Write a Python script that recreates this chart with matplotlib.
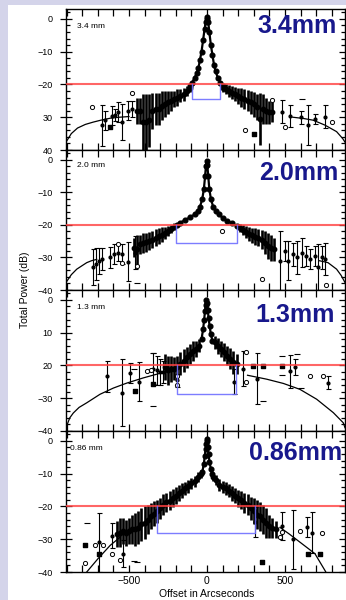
import numpy as np
import matplotlib as mpl
import matplotlib.pyplot as plt
from matplotlib.patches import Rectangle
from matplotlib.ticker import MultipleLocator, FixedLocator

mpl.rcParams.update({
    "font.family": ["Liberation Sans", "DejaVu Sans"],
    "axes.linewidth": 1.0,
})

C_NAVY = "#18188c"
C_RED = "#ff4040"
C_BLUE = "#6f6fff"
C_LAV = "#d4d4ea"

nan = np.nan

# ---------------------------------------------------------------- 3.4 mm
P1_CORE_X = [-110, -95, -80, -65, -55, -45, -35, -25, -15, -8, -3, 2, 8, 15, 25, 35, 45, 55, 70, 85, 100]
P1_CORE_Y = [-20.5, -19.5, -18, -16.5, -15, -12.5, -10, -6.5, -3, -1, 0, 0.5, -1, -4, -8, -11, -14, -16, -18, -19.5, -20.5]
P1_BAND_X = [-450, -430, -410, -390, -370, -350, -330, -310, -290, -270, -250, -230, -210, -190, -170, -150, -130, -110,
             100, 120, 140, 160, 180, 200, 220, 240, 260, 280, 300, 320, 340, 360, 380, 400, 420]
P1_BAND_Y = [-28, -28, -31.5, -31.5, -31, -28, -27.5, -27.5, -26.5, -26, -25.5, -25, -24.5, -24, -23.5, -23, -22, -21,
             -21, -21.5, -22, -22.5, -23, -23.5, -24, -24.5, -25, -25.5, -26, -27, -30.5, -27.5, -28, -28.5, -28.5]
P1_BAND_E = [4, 4, 8.5, 8.5, 8, 5.5, 5, 5, 4.5, 4, 3.5, 3, 2.5, 2.5, 2, 2, 1.5, 1.3,
             1.2, 1.5, 1.8, 2, 2.2, 2.5, 2.8, 3, 3.2, 3.5, 3.8, 4, 8, 4.5, 4, 3.5, 3]
P1_BAR_X = [-675, -654, -610, -590, -570, -545, -506, -480, 480, 532, 600, 648, 692, 756]
P1_BAR_Y = [-32.5, -31, -29.5, -29.3, -28.5, -31.5, -28, -27.5, -28.3, -29.6, -30, -32.4, -30.5, -29.8]
P1_BAR_E = [6.3, 3, 2.8, 1.8, 3, 5.5, 3, 2.5, 3.5, 3.3, 2, 6.1, 1.5, 3.5]
P1_OPEN_X = [-737, -480, 243, 415, 500, 800]
P1_OPEN_Y = [-27, -22.5, -33.9, -24.8, -33, -31.5]
P1_DOT_X = [-620, 300]
P1_DOT_Y = [-33, -35]
P1_DASH_X = [608]
P1_DASH_Y = [-24.5]
P1_CURVE_X = [-904, -870, -830, -780, -730, -680, -620, -560, -500, nan, 550, 620, 680, 756, 831, 870, 885]
P1_CURVE_Y = [-37.6, -35, -33.3, -32.2, -31.5, -30.9, -30.3, -30, -29.8, nan, -30, -30.4, -30.9, -32.4, -34.4, -36.5, -37.6]

# ---------------------------------------------------------------- 2.0 mm
P2_CORE_X = [-190, -170, -140, -110, -80, -60, -45, -30, -20, -12, -7, -3, 2, 8, 15, 25, 40, 55, 75, 100, 130, 160, 190]
P2_CORE_Y = [-20, -19.3, -18.5, -17.7, -16.8, -15.8, -14.5, -12, -9, -5, -2, -0.3, -1.5, -5, -9, -12, -14.5, -15.8,
             -16.8, -17.8, -18.8, -19.5, -20.3]
P2_BAND_X = [-470, -450, -430, -410, -390, -370, -350, -330, -310, -290, -270, -250, -230, -210,
             210, 230, 250, 270, 290, 310, 330, 350, 370, 390, 410, 430]
P2_BAND_Y = [-27, -27.5, -26, -25.6, -25.3, -25, -24.5, -24, -23.5, -23, -22.4, -21.8, -21.2, -20.6,
             -21, -21.6, -22.2, -22.8, -23.2, -23.6, -24, -24.5, -25.5, -26.5, -27, -27.5]
P2_BAND_E = [3, 4.5, 3, 3, 2.9, 2.8, 2.7, 2.6, 2.5, 2.2, 1.8, 1.5, 1.3, 1.1,
             1.2, 1.5, 1.8, 2, 2.3, 2.5, 2.6, 2.8, 3.5, 4, 4, 3.5]
P2_BAR_X = [-730, -712, -695, -675, -620, -595, -570, -547, -506, -460,
            468, 500, 520, 550, 577, 609, 635, 660, 690, 712, 735, 756]
P2_BAR_Y = [-33, -32, -31, -30.5, -30, -29, -28.5, -29, -31.3, -28.5,
            -31, -28, -31, -29, -30, -28.5, -29.5, -30.5, -29.5, -33, -30, -30.5]
P2_BAR_E = [5.5, 5, 4, 3.5, 3.3, 3, 2.5, 3, 5.9, 5,
            9, 3, 6, 3.5, 5, 4.5, 3, 3, 3, 7, 3.5, 5]
P2_OPEN_X = [-570, -547, -449, 96, 352, 765]
P2_OPEN_Y = [-25.8, -31.6, -32.6, -22, -36.5, -38.5]
P2_DOT_X = []
P2_DOT_Y = []
P2_DASH_X = [-449]
P2_DASH_Y = [-37.7]
P2_CURVE_X = [-904, -870, -835, -800, -771, -740, -707, nan, 720, 776, 831, 860, 885]
P2_CURVE_Y = [-37.7, -35.3, -33.6, -32.5, -31.6, -31, -30.6, nan, -31, -31.6, -33.6, -35.5, -37.7]

# ---------------------------------------------------------------- 1.3 mm
P3_CORE_X = [-35, -25, -18, -13, -9, -5, 0, 5, 10, 17, 25, 35]
P3_CORE_Y = [-12, -9, -6, -3.5, -1.5, 0, -1, -3, -5.5, -8, -10.5, -12.5]
P3_BAND_X = [-270, -250, -230, -210, -190, -170, -150, -130, -110, -90, -70, -50,
             50, 70, 90, 110, 130, 150, 170, 190]
P3_BAND_Y = [-20.5, -21.5, -21, -21, -20.5, -19.5, -18.5, -17.5, -16.5, -15.5, -15, -14,
             -13, -14, -15, -16, -17, -18, -19, -19.5]
P3_BAND_E = [4, 4.5, 4, 3.5, 3.5, 3.5, 3.5, 3.2, 3, 3, 2.5, 2,
             2, 2.5, 2.5, 2.8, 3, 3.2, 3.5, 3]
P3_BAR_X = [-643, -547, -494, -434, -345, -320, -300, -280, -195, 172, 232, 318, 532, 564, 777]
P3_BAR_Y = [-23.3, -28.3, -22.4, -25, -21, -21.5, -22, -22, -24.5, -25, -21, -24, -21.8, -20.5, -25.3]
P3_BAR_E = [4.8, 10.2, 3, 6, 4.7, 4.5, 4, 3.5, 2, 3.8, 5.3, 7.7, 5.1, 2.5, 2]
P3_OPEN_X = [-387, -360, -195, -195, 250, 250, 660, 745]
P3_OPEN_Y = [-21.8, -21.3, -23.3, -26, -16, -25, -23.3, -23.3]
P3_DOT_X = [-462, 297, 361, 479, -345]
P3_DOT_Y = [-27.7, -20.3, -20.3, -20.3, -25.8]
P3_DASH_X = [-345, -345, -468, 360, 479, 479, 580, 600]
P3_DASH_Y = [-16.3, -32.4, -21.2, -31, -17, -23, -16.5, -27]
P3_CURVE_X = [-904, -880, -857, -820, -771, -686, -600, -515, -408, -301, -260, nan,
              260, 383, 490, 596, 703, 810, 874, 885]
P3_CURVE_Y = [-39, -36, -34.5, -32.8, -31.4, -28.8, -26.9, -25.4, -23.8, -22.4, -22, nan,
              -23, -24.2, -25.5, -27.3, -30.3, -34.4, -37.5, -39]

# ---------------------------------------------------------------- 0.86 mm
P4_CORE_X = [-30, -20, -14, -9, -5, -2, 1, 5, 10, 16, 25, 32]
P4_CORE_Y = [-9.5, -7, -4.5, -2.5, -1, 0.5, 0, -2, -4, -6.5, -8.5, -10]
P4_BAND_X = [-580, -560, -540, -520, -500, -480, -460, -440, -420, -400, -380, -360, -340, -320,
             -300, -280, -260, -240, -220, -200, -180, -160, -140, -120, -100, -80, -60, -40,
             40, 60, 80, 100, 120, 140, 160, 180, 200, 220, 240, 260, 280, 300, 320, 340, 360,
             380, 400, 420, 440]
P4_BAND_Y = [-28.5, -28, -27.5, -28, -27.5, -27, -27, -26.5, -25.5, -25, -24, -23, -22.2, -21.5,
             -20.5, -19.5, -18.8, -18.2, -17.5, -16.8, -16, -15.2, -14.5, -13.8, -13, -12.3, -11, -10,
             -11, -12, -13.5, -14, -14.5, -15.2, -16, -16.7, -17.5, -18, -19, -19.5, -20.5, -21.5,
             -22.5, -23, -24, -25, -26, -26.5, -27]
P4_BAND_E = [4, 4.5, 4, 4, 4, 4.5, 5, 5, 5, 5, 4.5, 4, 3.8, 3.5,
             3.2, 3.2, 3, 3, 2.8, 2.6, 2.4, 2.2, 2, 2, 1.8, 1.7, 1.5, 1.2,
             1.2, 1.5, 1.8, 1.8, 2, 2, 2.2, 2.4, 2.6, 2.8, 3, 3.2, 3.5, 4, 4.5, 4.5, 4.5,
             4.5, 3.5, 3, 2.5]
P4_BAR_X = [-690, -611, -536, 308, 479, 553, 639, 671]
P4_BAR_Y = [-31, -29, -34.4, -24.8, -26, -30, -26.3, -28]
P4_BAR_E = [9, 3.8, 4.1, 4.5, 4.3, 9, 3, 6.3]
P4_OPEN_X = [-782, -718, -665, -611, -558, 468, 479, 596, 735]
P4_OPEN_Y = [-37.2, -31.8, -31.8, -34.4, -36.4, -29.4, -27.9, -27.5, -28]
P4_DOT_X = [-782, -690, 650, 724, 350]
P4_DOT_Y = [-31.8, -34.4, -34.4, -34.4, -37]
P4_DASH_X = [-770, -465, -450]
P4_DASH_Y = [-25.2, -36.5, -37]
P4_CURVE_X = [-800, -771, -700, -621, -560, nan, 468, 530, 596, 692, 756, 780]
P4_CURVE_Y = [-41.5, -40, -36, -31.9, -29.5, nan, -26.4, -28.5, -30.9, -34.4, -39.5, -41.5]

# panel text / annotation values
BAND_NAMES = ["3.4mm", "2.0mm", "1.3mm", "0.86mm"]
SMALL_NAMES = ["3.4 mm", "2.0 mm", "1.3 mm", "0.86 mm"]
YTICK_VALS = [0, -10, -20, -30, -40]
YTICK_LABELS = [
    ["0", "\u221210", "\u221220", "30", "40"],
    ["0", "\u221210", "\u221220", "\u221230", "\u221240"],
    ["0", "10", "20", "\u221230", "\u221240"],
    ["0", "\u221210", "\u221220", "\u221230", "\u221240"],
]
RED_LEVEL = -20
BOX_LEFT = [-97, -200, -195, -320]
BOX_RIGHT = [83, 190, 185, 308]
BOX_FLOOR = [-24.5, -25.6, -28.8, -28]

W, H = 346, 600
AX_L, AX_R = 66, 345
AX_TOP = [9, 150, 290, 431]
AX_BOT = [150, 290, 431, 572]
NAME_POS = [(337, 33), (338, 180), (335, 322), (342, 460)]
SMALL_POS = [(77, 26), (77, 166), (77, 307.5), (70, 449)]


def _draw_panel(ax, i, d):
    (cx, cy, bx, by, be, rx, ry, re, ox, oy, dx, dy, sx, sy, kx, ky) = d
    ax.plot(kx, ky, "-", color="k", lw=0.9, zorder=2)
    # dense part of the scan: points with short bars packed side by side
    ax.errorbar(bx, by, yerr=be, fmt="o", ms=3.2, color="k",
                elinewidth=1.9, capsize=0, zorder=3)
    ax.errorbar(rx, ry, yerr=re, fmt="o", ms=2.0, color="k",
                elinewidth=0.8, capsize=1.8, capthick=0.8, zorder=3)
    ax.plot(cx, cy, "-o", color="k", ms=3.4, lw=1.6, zorder=4)
    ax.scatter(ox, oy, s=9, facecolors="white", edgecolors="k",
               linewidths=0.7, zorder=4)
    if dx:
        ax.scatter(dx, dy, s=6, marker="s", c="k", zorder=4)
    if sx:
        ax.scatter(sx, sy, s=14, marker="_", c="k", linewidths=0.8, zorder=4)

    ax.axhline(RED_LEVEL, color=C_RED, lw=1.5, alpha=0.8, zorder=5)
    ax.plot([BOX_LEFT[i], BOX_LEFT[i], BOX_RIGHT[i], BOX_RIGHT[i]],
            [RED_LEVEL, BOX_FLOOR[i], BOX_FLOOR[i], RED_LEVEL],
            color=C_BLUE, lw=1.0, alpha=0.9, zorder=6)

    ax.set_xlim(-904, 885)
    ax.set_ylim(-40, 3)
    ax.xaxis.set_major_locator(FixedLocator([-500, 0, 500]))
    ax.xaxis.set_minor_locator(MultipleLocator(100))
    ax.set_yticks(YTICK_VALS)
    ax.set_yticklabels(YTICK_LABELS[i])
    ax.yaxis.set_minor_locator(MultipleLocator(2))
    ax.tick_params(which="both", direction="in", top=True, right=True,
                   width=0.9, labelsize=6.5, pad=5)
    ax.tick_params(axis="x", which="both", length=5)
    ax.tick_params(axis="y", which="major", direction="inout", length=9)
    ax.tick_params(axis="y", which="minor", length=3)
    if i < 3:
        ax.tick_params(axis="x", labelbottom=False)
    else:
        ax.tick_params(axis="x", labelsize=7.5, pad=3)


def main():
    fig = plt.figure(figsize=(W / 100, H / 100), dpi=100, facecolor=C_LAV)
    fig.patches.append(Rectangle((8 / W, 0), 1 - 8 / W, 595 / H,
                                 transform=fig.transFigure, facecolor="white",
                                 edgecolor="none", zorder=-1))

    data = [
        (P1_CORE_X, P1_CORE_Y, P1_BAND_X, P1_BAND_Y, P1_BAND_E, P1_BAR_X, P1_BAR_Y, P1_BAR_E,
         P1_OPEN_X, P1_OPEN_Y, P1_DOT_X, P1_DOT_Y, P1_DASH_X, P1_DASH_Y, P1_CURVE_X, P1_CURVE_Y),
        (P2_CORE_X, P2_CORE_Y, P2_BAND_X, P2_BAND_Y, P2_BAND_E, P2_BAR_X, P2_BAR_Y, P2_BAR_E,
         P2_OPEN_X, P2_OPEN_Y, P2_DOT_X, P2_DOT_Y, P2_DASH_X, P2_DASH_Y, P2_CURVE_X, P2_CURVE_Y),
        (P3_CORE_X, P3_CORE_Y, P3_BAND_X, P3_BAND_Y, P3_BAND_E, P3_BAR_X, P3_BAR_Y, P3_BAR_E,
         P3_OPEN_X, P3_OPEN_Y, P3_DOT_X, P3_DOT_Y, P3_DASH_X, P3_DASH_Y, P3_CURVE_X, P3_CURVE_Y),
        (P4_CORE_X, P4_CORE_Y, P4_BAND_X, P4_BAND_Y, P4_BAND_E, P4_BAR_X, P4_BAR_Y, P4_BAR_E,
         P4_OPEN_X, P4_OPEN_Y, P4_DOT_X, P4_DOT_Y, P4_DASH_X, P4_DASH_Y, P4_CURVE_X, P4_CURVE_Y),
    ]

    for i, d in enumerate(data):
        ax = fig.add_axes([AX_L / W, 1 - AX_BOT[i] / H,
                           (AX_R - AX_L) / W, (AX_BOT[i] - AX_TOP[i]) / H])
        _draw_panel(ax, i, d)
        nx, ny = NAME_POS[i]
        fig.text(nx / W, 1 - ny / H, BAND_NAMES[i], ha="right", va="baseline",
                 fontsize=18, fontweight="bold", color=C_NAVY, zorder=10)
        sx, sy = SMALL_POS[i]
        fig.text(sx / W, 1 - sy / H, SMALL_NAMES[i], ha="left", va="center",
                 fontsize=6, color="k", zorder=10)

    fig.text(25 / W, 1 - 290 / H, "Total Power (dB)", rotation=90,
             ha="center", va="center", fontsize=7.5)
    fig.text(207 / W, 1 - 594 / H, "Offset in Arcseconds",
             ha="center", va="center", fontsize=7.5)

    fig.savefig("out.png", dpi=100, facecolor=fig.get_facecolor())
    plt.close(fig)


if __name__ == "__main__":
    main()
